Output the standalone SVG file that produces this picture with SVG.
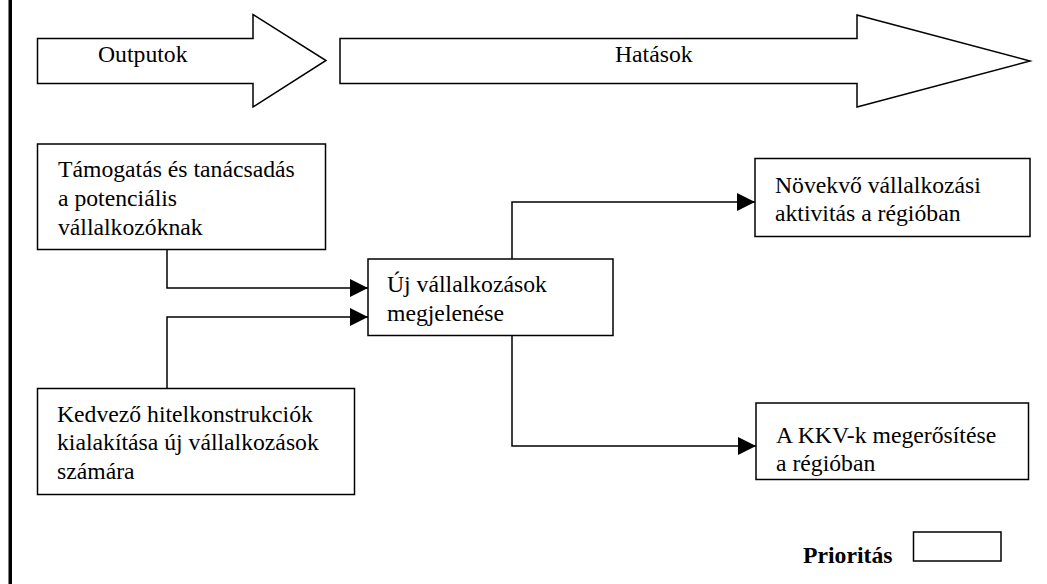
<svg xmlns="http://www.w3.org/2000/svg" width="1047" height="584" viewBox="0 0 1047 584">
<style>
.t{font-family:"Liberation Serif","Times New Roman",serif;font-size:23.7px;fill:#000}
.b{font-weight:bold}
.box{fill:#fff;stroke:#000;stroke-width:1.5}
.con{fill:none;stroke:#000;stroke-width:1.5;marker-end:url(#ah)}
</style>
<defs>
<marker id="ah" markerUnits="userSpaceOnUse" markerWidth="18" markerHeight="18" refX="18" refY="9" orient="auto">
<path d="M0,0 L18,9 L0,18 z" fill="#000"/>
</marker>
</defs>
<rect width="1047" height="584" fill="#fff"/>
<rect id="border" x="8.5" y="0" width="3.5" height="584" fill="#000"/>
<g id="arrow-outputok">
<path class="box" d="M37.5,38.5 H253 V14.5 L326,60.5 L253,107 V83.5 H37.5 z"/>
<text class="t" x="98" y="62">Outputok</text>
</g>
<g id="arrow-hatasok">
<path class="box" d="M340,38.5 H857 V15 L1030,61 L857,107 V83.5 H340 z"/>
<text class="t" x="615" y="62">Hatások</text>
</g>
<g id="connectors">
<path class="con" d="M167,250 V288 H368"/>
<path class="con" d="M167,388 V317 H368"/>
<path class="con" d="M512,259 V202 H755"/>
<path class="con" d="M512,336 V446 H756"/>
</g>
<g id="node-tamogatas">
<rect class="box" x="37.5" y="144" width="288" height="105.5"/>
<text class="t" x="58" y="177">Támogatás és tanácsadás</text>
<text class="t" x="58" y="206">a potenciális</text>
<text class="t" x="58" y="235">vállalkozóknak</text>
</g>
<g id="node-uj">
<rect class="box" x="368" y="259" width="245" height="76.5"/>
<text class="t" x="387" y="292">Új vállalkozások</text>
<text class="t" x="387" y="321">megjelenése</text>
</g>
<g id="node-kedvezo">
<rect class="box" x="37.5" y="388.5" width="317" height="106"/>
<text class="t" x="57" y="421.5">Kedvező hitelkonstrukciók</text>
<text class="t" x="57" y="450">kialakítása új vállalkozások</text>
<text class="t" x="57" y="478.5">számára</text>
</g>
<g id="node-novekvo">
<rect class="box" x="755" y="158.5" width="275" height="78"/>
<text class="t" x="775" y="193">Növekvő vállalkozási</text>
<text class="t" x="775" y="221">aktivitás a régióban</text>
</g>
<g id="node-kkv">
<rect class="box" x="756" y="403" width="272.5" height="76.5"/>
<text class="t" x="776" y="443">A KKV-k megerősítése</text>
<text class="t" x="776" y="470.5">a régióban</text>
</g>
<g id="legend">
<text class="t b" x="803" y="563">Prioritás</text>
<rect class="box" x="913.5" y="532" width="87.5" height="29"/>
</g>
</svg>
